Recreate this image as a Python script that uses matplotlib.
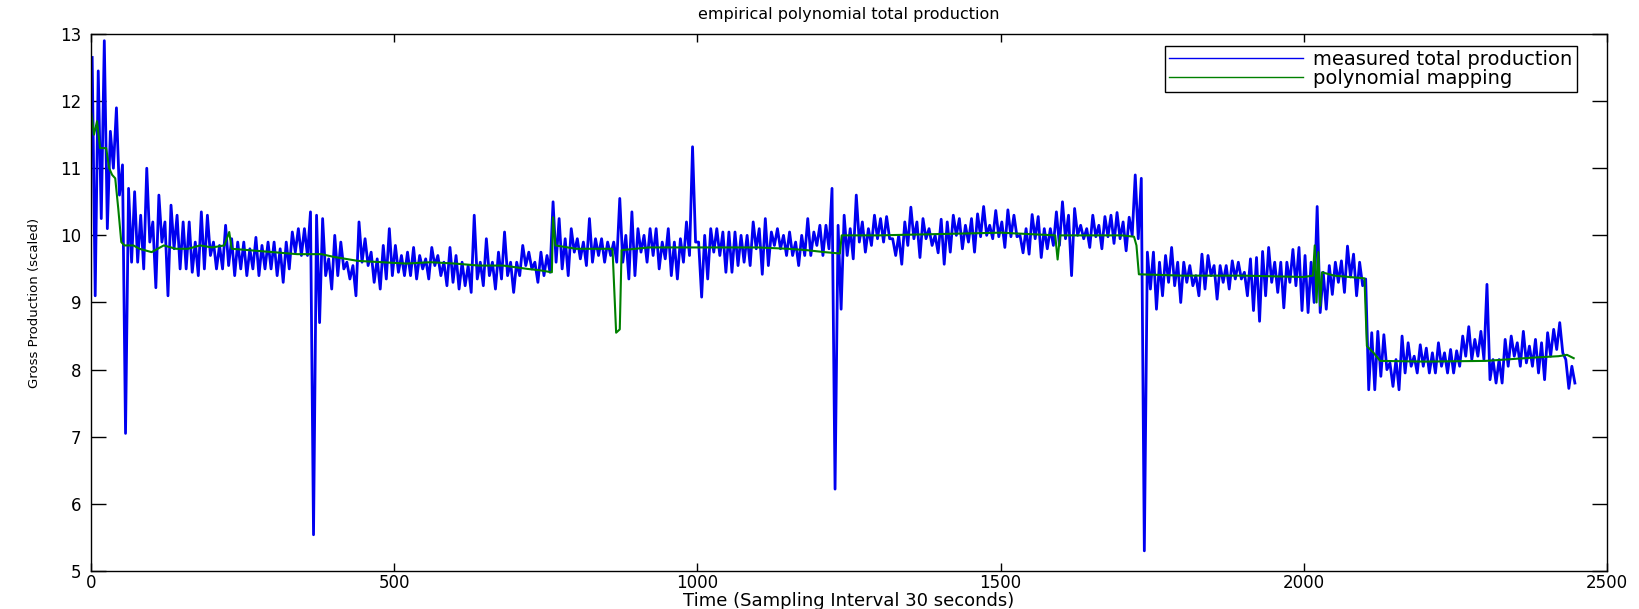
import matplotlib
matplotlib.use("Agg")
import matplotlib.pyplot as plt
import numpy as np

# measured total production: upper / lower value read in each 10-sample bin
bin_width = 10
meas_hi = [
    12.65, 12.45, 12.9, 11.55, 11.9, 11.05, 10.7, 10.65, 10.3, 11.0,
    10.2, 10.6, 10.2, 10.45, 10.3, 10.2, 10.2, 9.9, 10.35, 10.3,
    9.9, 9.85, 10.15, 9.95, 9.9, 9.9, 9.8, 9.97, 9.85, 9.9,
    9.9, 9.8, 9.9, 10.05, 10.1, 10.1, 10.35, 10.3, 10.25, 9.65,
    10.0, 9.9, 9.6, 9.55, 10.2, 9.95, 9.75, 9.65, 9.85, 10.1,
    9.85, 9.7, 9.75, 9.82, 9.7, 9.65, 9.82, 9.7, 9.6, 9.82,
    9.7, 9.6, 9.55, 10.3, 9.6, 9.95, 9.6, 9.75, 10.05, 9.6,
    9.6, 9.85, 9.75, 9.6, 9.75, 9.7, 10.5, 10.25, 9.95, 10.1,
    9.95, 9.9, 10.25, 9.95, 9.95, 9.9, 9.9, 10.55, 10.0, 10.35,
    10.1, 10.0, 10.1, 10.1, 9.9, 10.1, 9.9, 9.95, 10.2, 11.32,
    9.9, 10.0, 10.1, 10.1, 10.05, 10.05, 10.05, 10.0, 10.0, 10.2,
    10.1, 10.25, 10.05, 10.1, 10.0, 10.05, 9.9, 10.0, 10.25, 10.05,
    10.15, 10.15, 10.7, 10.15, 10.3, 10.1, 10.6, 10.2, 10.1, 10.3,
    10.25, 10.28, 9.95, 10.0, 10.2, 10.42, 10.2, 10.25, 10.1, 10.0,
    10.24, 10.2, 10.3, 10.25, 10.15, 10.25, 10.32, 10.43, 10.15, 10.37,
    10.2, 10.38, 10.3, 10.0, 10.1, 10.31, 10.28, 10.1, 10.1, 10.35,
    10.5, 10.3, 10.4, 10.15, 10.1, 10.3, 10.15, 10.28, 10.3, 10.34,
    10.2, 10.27, 10.9, 10.85, 9.75, 9.75, 9.6, 9.7, 9.82, 9.6,
    9.6, 9.55, 9.4, 9.72, 9.7, 9.55, 9.55, 9.55, 9.62, 9.6,
    9.45, 9.65, 9.67, 9.76, 9.82, 9.6, 9.6, 9.6, 9.79, 9.82,
    9.7, 9.6, 10.43, 9.45, 9.55, 9.6, 9.62, 9.84, 9.72, 9.6,
    9.35, 8.55, 8.57, 8.52, 8.1, 8.15, 8.5, 8.4, 8.2, 8.37,
    8.32, 8.25, 8.4, 8.25, 8.3, 8.28, 8.5, 8.64, 8.45, 8.57,
    9.27, 8.15, 8.15, 8.45, 8.5, 8.4, 8.57, 8.35, 8.45, 8.4,
    8.55, 8.6, 8.7, 8.15, 8.05,
]
meas_lo = [
    9.1, 10.25, 10.1, 11.0, 10.6, 7.05, 9.6, 9.6, 9.5, 9.9,
    9.22, 9.9, 9.1, 9.8, 9.5, 9.5, 9.45, 9.4, 9.5, 9.7,
    9.5, 9.5, 9.55, 9.4, 9.5, 9.4, 9.5, 9.4, 9.5, 9.5,
    9.4, 9.3, 9.5, 9.75, 9.7, 9.7, 5.54, 8.7, 9.4, 9.2,
    9.4, 9.5, 9.35, 9.1, 9.6, 9.55, 9.3, 9.2, 9.35, 9.4,
    9.45, 9.4, 9.4, 9.35, 9.5, 9.35, 9.55, 9.4, 9.25, 9.3,
    9.2, 9.25, 9.15, 9.35, 9.25, 9.4, 9.2, 9.35, 9.4, 9.15,
    9.4, 9.55, 9.5, 9.3, 9.4, 9.45, 9.6, 9.5, 9.4, 9.75,
    9.65, 9.55, 9.6, 9.7, 9.6, 9.7, 9.6, 9.6, 9.35, 9.4,
    9.75, 9.6, 9.7, 9.5, 9.65, 9.4, 9.35, 9.6, 9.7, 9.9,
    9.08, 9.35, 9.75, 9.7, 9.45, 9.45, 9.55, 9.6, 9.55, 9.8,
    9.42, 9.55, 9.85, 9.8, 9.7, 9.7, 9.55, 9.7, 9.7, 9.85,
    9.7, 9.8, 6.22, 8.9, 9.7, 9.65, 9.9, 9.75, 9.85, 9.95,
    9.9, 9.95, 9.7, 9.57, 9.85, 9.95, 9.67, 9.95, 9.85, 9.74,
    9.57, 9.75, 10.0, 9.8, 9.9, 9.75, 9.98, 10.0, 9.95, 9.98,
    9.82, 9.98, 9.98, 9.74, 9.72, 9.95, 9.67, 9.8, 9.85, 9.85,
    9.95, 9.4, 10.0, 9.95, 9.82, 9.98, 9.8, 9.98, 9.88, 9.95,
    9.77, 10.0, 9.95, 5.3, 9.2, 8.9, 9.1, 9.3, 9.25, 9.0,
    9.3, 9.25, 9.1, 9.2, 9.4, 9.05, 9.3, 9.2, 9.35, 9.35,
    9.1, 8.88, 8.72, 9.1, 9.3, 9.15, 8.92, 9.3, 9.25, 8.88,
    8.85, 9.0, 8.85, 8.9, 9.12, 9.3, 9.15, 9.38, 9.1, 9.25,
    7.7, 7.7, 7.9, 8.0, 7.75, 7.7, 7.95, 8.05, 7.95, 8.05,
    7.95, 7.95, 8.05, 7.95, 7.95, 8.05, 8.2, 8.15, 8.2, 8.15,
    7.85, 7.8, 7.8, 8.05, 8.2, 8.05, 8.1, 8.05, 7.95, 7.85,
    8.2, 8.3, 8.25, 7.72, 7.8,
]

# polynomial mapping, read at its break points
poly_t = [0, 5, 10, 15, 25, 30, 35, 40, 45, 50, 55, 70, 80, 100, 120, 140,
          160, 180, 200, 220, 228, 232, 260, 300, 340, 380, 400, 440, 480,
          520, 560, 600, 640, 680, 720, 740, 760, 762, 766, 800, 860, 866,
          872, 875, 920, 1000, 1100, 1150, 1180, 1210, 1235, 1238, 1300,
          1400, 1500, 1590, 1594, 1598, 1700, 1720, 1724, 1728, 1800, 1900,
          2000, 2015, 2018, 2021, 2024, 2027, 2030, 2050, 2100, 2104, 2115,
          2126, 2200, 2300, 2380, 2420, 2434, 2445]
poly_v = [11.85, 11.5, 11.7, 11.3, 11.3, 11.0, 10.9, 10.85, 10.4, 9.9, 9.85,
          9.85, 9.8, 9.75, 9.85, 9.8, 9.8, 9.85, 9.82, 9.85, 10.05, 9.8,
          9.78, 9.75, 9.72, 9.72, 9.68, 9.62, 9.6, 9.58, 9.6, 9.58, 9.55,
          9.55, 9.5, 9.48, 9.45, 10.27, 9.85, 9.8, 9.8, 8.55, 8.6, 9.78,
          9.82, 9.82, 9.82, 9.8, 9.78, 9.75, 9.73, 10.0, 10.0, 10.02, 10.04,
          10.0, 9.64, 10.0, 10.0, 9.98, 9.85, 9.42, 9.4, 9.4, 9.38, 9.4,
          9.85, 9.0, 9.75, 8.95, 9.45, 9.4, 9.36, 8.35, 8.25, 8.13, 8.12,
          8.13, 8.18, 8.2, 8.22, 8.17]

x_ticks = [0, 500, 1000, 1500, 2000, 2500]
y_ticks = [5, 6, 7, 8, 9, 10, 11, 12, 13]

# each bin is drawn as an up/down stroke between its high and low value
meas_t = []
meas_v = []
for k in range(len(meas_hi)):
    meas_t += [k * bin_width + 2, k * bin_width + 7]
    meas_v += [meas_hi[k], meas_lo[k]]

fig = plt.figure(figsize=(16.39, 6.09), dpi=100)
ax = fig.add_axes([0.0555, 0.0624, 0.925, 0.8818])

ax.plot(meas_t, meas_v, color="#0000f0", lw=2.0, label="measured total production")
ax.plot(poly_t, poly_v, color="#008000", lw=1.5, label="polynomial mapping")

ax.set_xlim(0, 2500)
ax.set_ylim(5, 13)
ax.set_xticks(x_ticks)
ax.set_yticks(y_ticks)
ax.tick_params(axis="both", direction="in", top=True, right=True,
               labelsize=12, width=1)
ax.tick_params(axis="x", length=6, pad=2)
ax.tick_params(axis="y", length=11, pad=7)
for sp in ax.spines.values():
    sp.set_linewidth(1.0)

ax.set_title("empirical polynomial total production", fontsize=11.5, pad=11)
ax.set_xlabel("Time (Sampling Interval 30 seconds)", fontsize=13, labelpad=0)
ax.set_ylabel("Gross Production (scaled)", fontsize=9.5,
              family=["Liberation Sans Narrow", "DejaVu Sans"], labelpad=14)

leg = ax.legend(loc="upper right", bbox_to_anchor=(0.980, 0.978),
                borderaxespad=0, fontsize=14, handlelength=6.9,
                handletextpad=0.5, labelspacing=0.0, borderpad=0.22,
                fancybox=False, framealpha=1)
leg.get_frame().set_edgecolor("black")
leg.get_frame().set_linewidth(1.0)
for line in leg.get_lines():
    line.set_linewidth(1.0)

fig.savefig("out.png", dpi=100)
